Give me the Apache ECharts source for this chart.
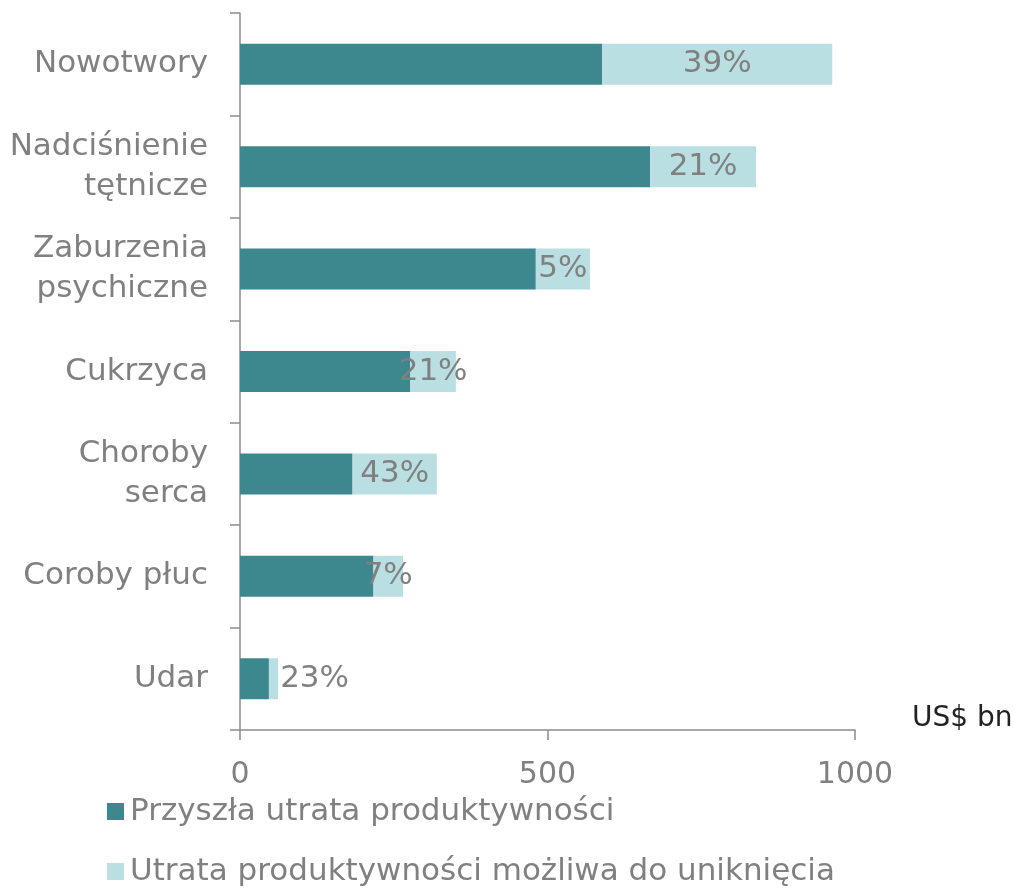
<!DOCTYPE html>
<html>
<head>
<meta charset="utf-8">
<script src="https://cdn.jsdelivr.net/npm/echarts@6/dist/echarts.min.js"></script>
<style>html,body{margin:0;padding:0;background:#fff}#c{width:1014px;height:890px}</style>
</head>
<body>
<div id="c"></div>
<script>
var categories = ['Nowotwory', 'Nadciśnienie\ntętnicze', 'Zaburzenia\npsychiczne', 'Cukrzyca', 'Choroby\nserca', 'Coroby płuc', 'Udar'];
var futureLoss = [589, 667, 481, 277, 183, 217, 47];
var avoidableLoss = [374, 172, 88, 74, 137, 48, 15];
var shareLabels = ['39%', '21%', '5%', '21%', '43%', '7%', '23%'];
var seriesNames = ['Przyszła utrata produktywności', 'Utrata produktywności możliwa do uniknięcia'];
var xTicks = [0, 500, 1000];

var FONT = 'DejaVu Sans';
var GRAY = '#808080';

var chart = echarts.init(document.getElementById('c'));
var lightData = avoidableLoss.map(function (v, i) {
  var item = { value: v };
  if (i === avoidableLoss.length - 1) {
    item.label = { position: 'right', distance: 2 };
  }
  return item;
});

function legendFor(name, top) {
  return {
    orient: 'horizontal',
    left: 102,
    top: top,
    itemWidth: 17,
    itemHeight: 17,
    icon: 'rect',
    textStyle: { fontFamily: FONT, fontSize: 31, color: GRAY, padding: [0, 0, 0, 1] },
    data: [name]
  };
}

chart.setOption({
  animation: false,
  textStyle: { fontFamily: FONT },
  grid: { left: 240, right: 159, top: 13, bottom: 160 },
  legend: [legendFor(seriesNames[0], 791), legendFor(seriesNames[1], 851)],
  xAxis: {
    type: 'value',
    min: xTicks[0],
    max: xTicks[xTicks.length - 1],
    interval: 500,
    splitLine: { show: false },
    axisLine: { show: true, lineStyle: { color: '#8c8c8c', width: 1.5 } },
    axisTick: { show: true, length: 10, lineStyle: { color: '#8c8c8c', width: 1.5 } },
    axisLabel: { fontFamily: FONT, fontSize: 30, color: GRAY, margin: 30, formatter: function (v) { return String(v); } }
  },
  yAxis: {
    type: 'category',
    inverse: true,
    data: categories,
    axisLine: { show: true, lineStyle: { color: '#8c8c8c', width: 1.5 } },
    axisTick: { show: true, length: 10, lineStyle: { color: '#8c8c8c', width: 1.5 } },
    axisLabel: { fontFamily: FONT, fontSize: 31, color: GRAY, margin: 32, lineHeight: 40, align: 'right' }
  },
  graphic: [{
    type: 'text',
    left: 912,
    top: 705,
    style: { text: 'US$ bn', fontFamily: FONT, fontSize: 28, fill: '#222222' }
  }],
  series: [{
    name: seriesNames[0],
    type: 'bar',
    stack: 'total',
    barWidth: 41,
    itemStyle: { color: '#3d878e' },
    data: futureLoss
  }, {
    name: seriesNames[1],
    type: 'bar',
    stack: 'total',
    barWidth: 41,
    itemStyle: { color: '#b9dfe3' },
    label: {
      show: true,
      position: 'inside',
      fontFamily: FONT,
      fontSize: 31,
      color: GRAY,
      formatter: function (p) { return shareLabels[p.dataIndex]; }
    },
    data: lightData
  }]
});
</script>
</body>
</html>
